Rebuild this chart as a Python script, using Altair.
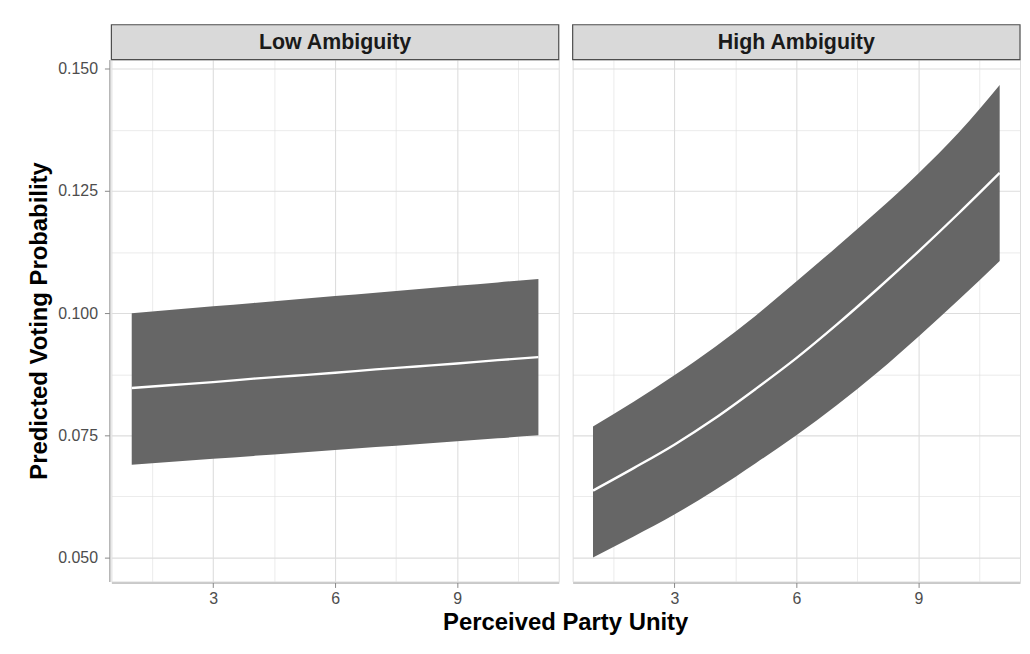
import altair as alt
import pandas as pd

panels = ["Low Ambiguity", "High Ambiguity"]
x_vals = [1, 2, 3, 4, 5, 6, 7, 8, 9, 10, 11]

low_fit = [0.0847, 0.0853, 0.0859, 0.0866, 0.0872, 0.0878, 0.0885, 0.0891, 0.0897, 0.0904, 0.0910]
low_lower = [0.0690, 0.0696, 0.0702, 0.0708, 0.0714, 0.0720, 0.0726, 0.0732, 0.0738, 0.0744, 0.0750]
low_upper = [0.1000, 0.1007, 0.1014, 0.1021, 0.1028, 0.1035, 0.1042, 0.1049, 0.1056, 0.1063, 0.1070]

high_fit = [0.0637, 0.0683, 0.0731, 0.0785, 0.0845, 0.0908, 0.0977, 0.1050, 0.1126, 0.1205, 0.1287]
high_lower = [0.0500, 0.0543, 0.0588, 0.0638, 0.0693, 0.0750, 0.0812, 0.0879, 0.0952, 0.1028, 0.1107]
high_upper = [0.0768, 0.0819, 0.0873, 0.0931, 0.0995, 0.1065, 0.1136, 0.1209, 0.1286, 0.1370, 0.1467]

y_ticks = [0.05, 0.0625, 0.075, 0.0875, 0.1, 0.1125, 0.125, 0.1375, 0.15]
x_ticks = [1.5, 3, 4.5, 6, 7.5, 9, 10.5]

rows = []
for p, fit, lo, up in [
    (panels[0], low_fit, low_lower, low_upper),
    (panels[1], high_fit, high_lower, high_upper),
]:
    for i, x in enumerate(x_vals):
        rows.append({"panel": p, "x": x, "fit": fit[i], "lower": lo[i], "upper": up[i]})
df = pd.DataFrame(rows)

FONT = "Liberation Sans"
W, H = 450, 525

y_major = "abs(datum.value * 40 - round(datum.value * 40)) < 0.001"
x_major = "datum.value % 3 == 0"

y_axis = alt.Axis(
    values=y_ticks,
    labelExpr=f"({y_major}) ? format(datum.value, '.3f') : ''",
    tickOpacity={"condition": {"test": y_major, "value": 1}, "value": 0},
    gridWidth={"condition": {"test": y_major, "value": 1.1}, "value": 0.6},
    labelFontSize=16,
    labelFont=FONT,
    labelColor="#4D4D4D",
    labelPadding=7,
    title="Predicted Voting Probability",
    titleFontSize=24,
    titleFontWeight="bold",
    titleColor="black",
    titleFont=FONT,
    titlePadding=6,
)
x_axis = alt.Axis(
    values=x_ticks,
    labelExpr=f"({x_major}) ? format(datum.value, 'd') : ''",
    tickOpacity={"condition": {"test": x_major, "value": 1}, "value": 0},
    gridWidth={"condition": {"test": x_major, "value": 1.1}, "value": 0.6},
    labelFontSize=16,
    labelFont=FONT,
    labelColor="#4D4D4D",
    labelPadding=3,
    title=None,
)

xs = alt.Scale(domain=[0.5, 11.5], nice=False, zero=False)
ys = alt.Scale(domain=[0.0451, 0.1519], nice=False, zero=False)

band = alt.Chart().mark_area(color="#666666", interpolate="monotone").encode(
    x=alt.X("x:Q", scale=xs, axis=x_axis),
    y=alt.Y("lower:Q", scale=ys, axis=y_axis),
    y2="upper:Q",
)
line = alt.Chart().mark_line(color="white", strokeWidth=2.4, interpolate="monotone").encode(
    x=alt.X("x:Q", scale=xs, axis=x_axis),
    y=alt.Y("fit:Q", scale=ys, axis=y_axis),
)
strip = alt.Chart().mark_rect(fill="#D9D9D9", stroke="#4D4D4D", strokeWidth=1.2, clip=False).encode(
    x=alt.value(0), x2=alt.value(W), y=alt.value(-35), y2=alt.value(0)
).transform_filter("datum.x == 1")
strip_text = alt.Chart().mark_text(
    font=FONT, fontSize=21.5, fontWeight="bold", color="#1A1A1A", baseline="middle", align="center"
).encode(
    x=alt.value(W / 2), y=alt.value(-17), text="panel:N"
).transform_filter("datum.x == 1")

layered = alt.layer(band, line, strip, strip_text, data=df).properties(width=W, height=H)

chart = layered.facet(
    column=alt.Column(
        "panel:N",
        sort=panels,
        header=alt.Header(
            labels=False,
            title="Perceived Party Unity",
            titleOrient="bottom",
            titleFontSize=24,
            titleFontWeight="bold",
            titleColor="black",
            titleFont=FONT,
            titlePadding=-5,
        ),
    ),
    spacing=10,
).properties(
    padding={"left": 19, "top": 13, "right": 0, "bottom": 2}
).configure_view(
    stroke="#4D4D4D", strokeWidth=1.2
).configure_axis(
    domain=False,
    gridColor="#EBEBEB",
    tickColor="#4D4D4D",
    tickSize=5,
    tickWidth=1.1,
).configure(background="white")

chart.save("out.html", embed_options={"renderer": "svg", "actions": False})
